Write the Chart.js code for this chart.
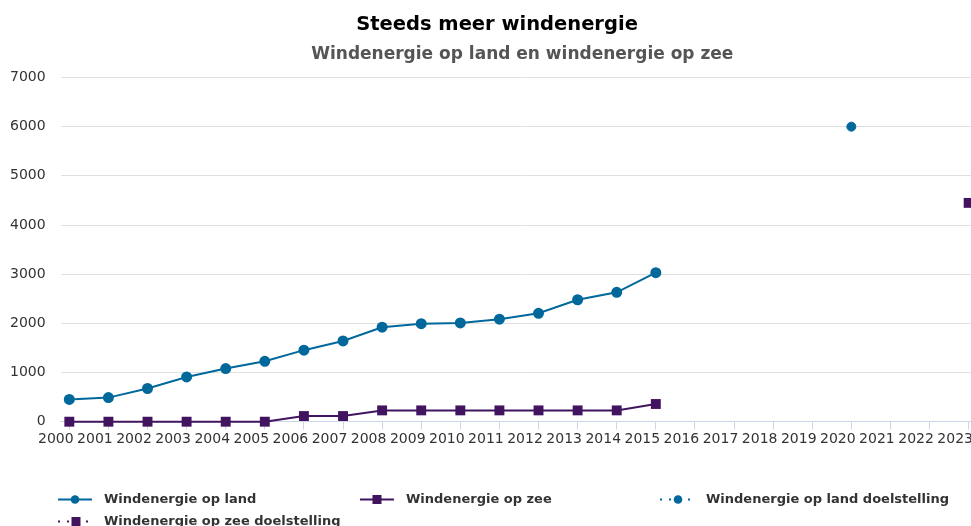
<!DOCTYPE html>
<html>
<head>
<meta charset="utf-8">
<script src="https://cdn.jsdelivr.net/npm/chart.js@4"></script>
<style>
html,body{margin:0;padding:0;overflow:hidden;background:#fff;}
#wrap{width:1000px;height:526px;position:relative;}
</style>
</head>
<body>
<div id="wrap"><canvas id="c" width="1000" height="526"></canvas></div>
<script>
// ---- data ----
const years = [2000,2001,2002,2003,2004,2005,2006,2007,2008,2009,2010,2011,2012,2013,2014,2015];
const landValues = [452,490,675,910,1080,1228,1455,1642,1922,1994,2008,2085,2205,2480,2632,3030];
const zeeValues = [0,0,0,0,0,0,115,115,230,230,230,230,230,230,230,360];
const landTargetYears = [2020];
const landTargetValues = [6000];
const zeeTargetYears = [2023];
const zeeTargetValues = [4450];
const xTickLabels = [2000,2001,2002,2003,2004,2005,2006,2007,2008,2009,2010,2011,2012,2013,2014,2015,2016,2017,2018,2019,2020,2021,2022,2023];
const yTickLabels = [0,1000,2000,3000,4000,5000,6000,7000];
const seriesNames = ['Windenergie op land','Windenergie op zee','Windenergie op land doelstelling','Windenergie op zee doelstelling'];
const titleText = 'Steeds meer windenergie';
const subtitleText = 'Windenergie op land en windenergie op zee';

const BLUE = '#01689B';
const PURPLE = '#42145F';
const FONT = "'DejaVu Sans', Verdana, sans-serif";

const pts = (xs, ys) => xs.map((x, i) => ({x: x, y: ys[i]}));

const legendPlugin = {
  id: 'customLegend',
  afterDraw(chart) {
    const ctx = chart.ctx;
    const cols = [58, 360, 660];
    const rows = [499.5, 521.5];
    chart.data.datasets.forEach((ds, i) => {
      const x = cols[i % 3];
      const y = rows[Math.floor(i / 3)];
      ctx.save();
      const color = ds.borderColor;
      if (!ds.isTarget) {
        ctx.strokeStyle = color;
        ctx.lineWidth = 2;
        ctx.beginPath();
        ctx.moveTo(x, y);
        ctx.lineTo(x + 34, y);
        ctx.stroke();
      } else {
        ctx.fillStyle = color;
        [1, 10, 29].forEach(dx => ctx.fillRect(x + dx - 1, y - 1, 2, 2));
      }
      ctx.fillStyle = color;
      const mx = ds.isTarget ? x + 18 : x + 17;
      if (ds.pointStyle === 'rect') {
        ctx.fillRect(mx - 4.5, y - 4.5, 9, 9);
      } else {
        ctx.beginPath();
        ctx.arc(mx, y, 4.3, 0, Math.PI * 2);
        ctx.fill();
      }
      ctx.fillStyle = '#333333';
      ctx.font = "bold 13px " + FONT;
      ctx.textBaseline = 'middle';
      ctx.textAlign = 'left';
      ctx.fillText(ds.label, x + 46, y);
      ctx.restore();
    });
  }
};

new Chart(document.getElementById('c'), {
  type: 'line',
  data: {
    datasets: [
      {label: seriesNames[0], data: pts(years, landValues), borderColor: BLUE, backgroundColor: BLUE,
       borderWidth: 2, pointStyle: 'circle', pointRadius: 4.5, pointHoverRadius: 4.5, tension: 0, clip: false},
      {label: seriesNames[1], data: pts(years, zeeValues), borderColor: PURPLE, backgroundColor: PURPLE,
       borderWidth: 2, pointStyle: 'rect', pointRadius: 7, pointHoverRadius: 7, pointBorderWidth: 0, tension: 0, clip: false},
      {label: seriesNames[2], data: pts(landTargetYears, landTargetValues), borderColor: BLUE, backgroundColor: BLUE,
       showLine: false, pointStyle: 'circle', pointRadius: 4.5, pointHoverRadius: 4.5, isTarget: true, clip: false},
      {label: seriesNames[3], data: pts(zeeTargetYears, zeeTargetValues), borderColor: PURPLE, backgroundColor: PURPLE,
       showLine: false, pointStyle: 'rect', pointRadius: 7, pointHoverRadius: 7, pointBorderWidth: 0, isTarget: true, clip: false}
    ]
  },
  options: {
    responsive: false,
    animation: false,
    layout: {padding: {left: 10, right: 16, top: 0, bottom: 77.5}},
    plugins: {
      legend: {display: false},
      tooltip: {enabled: false},
      title: {display: true, text: titleText, color: '#000000',
              font: {family: FONT, size: 19.5, weight: 'bold'}, padding: {top: 13, bottom: 8}},
      subtitle: {display: true, text: subtitleText, color: '#555555', fullSize: false,
                 font: {family: FONT, size: 17, weight: 'bold'}, padding: {top: 0, bottom: 12.7}}
    },
    scales: {
      x: {
        type: 'linear',
        min: 1999.777,
        max: 2023.393,
        afterBuildTicks: s => { s.ticks = xTickLabels.map(v => ({value: v})); },
        ticks: {callback: v => String(v), color: '#333333', font: {family: FONT, size: 14},
                autoSkip: false, maxRotation: 0, minRotation: 0, labelOffset: -13.5, padding: 1},
        grid: {drawOnChartArea: false, drawTicks: true, tickLength: 8, tickColor: '#ccd6eb'},
        border: {display: true, color: '#ccd6eb', width: 1}
      },
      y: {
        min: 0,
        max: 7000,
        afterBuildTicks: s => { s.ticks = yTickLabels.map(v => ({value: v})); },
        afterFit: s => { s.width = 50.6; },
        ticks: {callback: v => String(v), color: '#333333', font: {family: FONT, size: 14}, padding: 15},
        grid: {color: '#e0e0e0', drawTicks: false},
        border: {display: false}
      }
    }
  },
  plugins: [legendPlugin]
});
</script>
</body>
</html>
